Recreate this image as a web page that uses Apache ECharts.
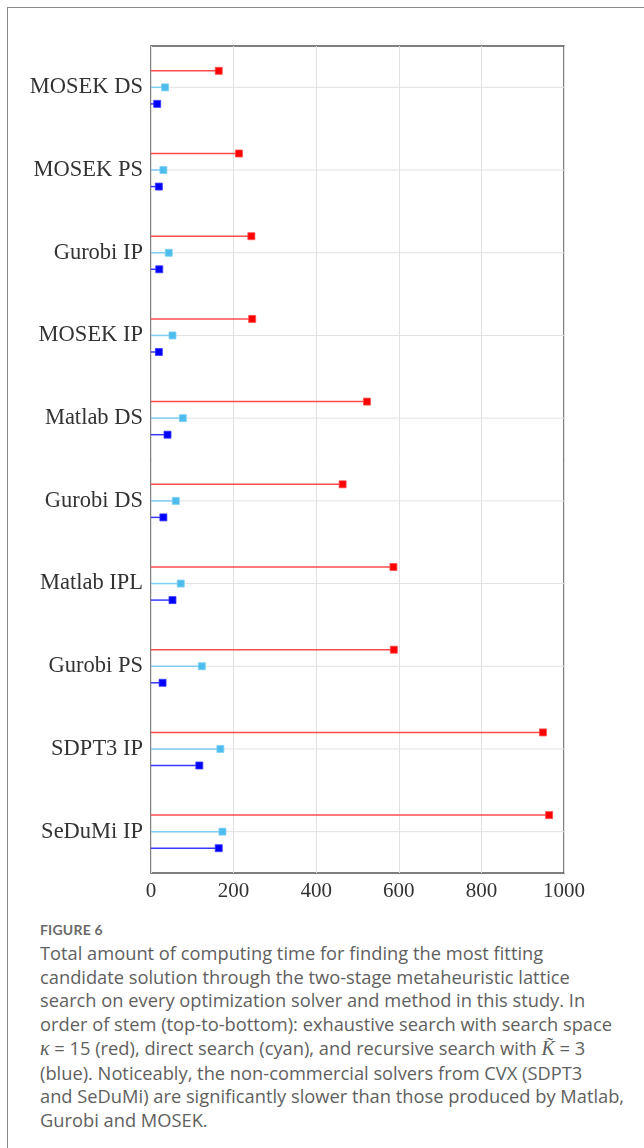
<!DOCTYPE html>
<html>
<head>
<meta charset="utf-8">
<script src="https://cdn.jsdelivr.net/npm/echarts@6/dist/echarts.min.js"></script>
<style>
  html, body { margin: 0; padding: 0; background: #fff; }
  #frame { position: absolute; left: 7px; top: 7px; width: 700px; height: 1200px;
           border: 1.5px solid #8a8a8a; box-sizing: border-box; }
  #main { position: absolute; left: 0; top: 0; width: 644px; height: 910px; }
  #caption { position: absolute; left: 40px; top: 921px; font-family: "Open Sans", Lato, sans-serif;
             color: #5f5f5f; white-space: nowrap; }
  #caption .fig { font-family: Lato, sans-serif; font-size: 14px; font-weight: bold; color: #6a6a6a;
                  letter-spacing: 0.2px; margin-bottom: 3px; }
  #caption .txt { font-size: 18.3px; line-height: 23.7px; }
  #caption i { font-family: "Liberation Serif", serif; font-size: 20px; }
</style>
</head>
<body>
<div id="frame"></div>
<div id="main"></div>
<div id="caption">
  <div class="fig">FIGURE 6</div>
  <div class="txt">
    Total amount of computing time for finding the most fitting<br>
    candidate solution through the two-stage metaheuristic lattice<br>
    search on every optimization solver and method in this study. In<br>
    order of stem (top-to-bottom): exhaustive search with search space<br>
    <i>κ</i> = 15 (red), direct search (cyan), and recursive search with <i>K̃</i> = 3<br>
    (blue). Noticeably, the non-commercial solvers from CVX (SDPT3<br>
    and SeDuMi) are significantly slower than those produced by Matlab,<br>
    Gurobi and MOSEK.
  </div>
</div>
<script>
// 求解器/方法（自上而下）
var solvers = ['MOSEK DS', 'MOSEK PS', 'Gurobi IP', 'MOSEK IP', 'Matlab DS',
               'Gurobi DS', 'Matlab IPL', 'Gurobi PS', 'SDPT3 IP', 'SeDuMi IP'];
var exhaustive = [164, 213, 243, 245, 523, 464, 587, 588, 949, 964];
var direct = [34, 30, 43, 52, 77, 60, 72, 123, 168, 173];
var recursive = [15, 19, 20, 19, 40, 30, 52, 28, 117, 164];
var xTicks = [0, 200, 400, 600, 800, 1000];

var myChart = echarts.init(document.getElementById('main'), null, { renderer: 'canvas' });

function stemSeries(name, values, offset, lineColor, markColor) {
    return {
        name: name,
        type: 'custom',
        z: 3,
        encode: { x: 0, y: 1 },
        data: values.map(function (v, i) { return [v, i]; }),
        renderItem: function (params, api) {
            var band = api.size([0, 1])[1];
            var end = api.coord([api.value(0), api.value(1)]);
            var start = api.coord([0, api.value(1)]);
            var y = end[1] + offset * band;
            var s = 7;
            return {
                type: 'group',
                children: [{
                    type: 'line',
                    shape: { x1: start[0], y1: y, x2: end[0], y2: y },
                    style: { stroke: lineColor, lineWidth: 1.5 }
                }, {
                    type: 'rect',
                    shape: { x: end[0] - s / 2, y: y - s / 2, width: s, height: s },
                    style: { fill: markColor, stroke: lineColor, lineWidth: 0.8 }
                }]
            };
        }
    };
}

var option = {
    animation: false,
    grid: {
        left: 151, top: 46, width: 413, bottom: 37,
        show: true, borderColor: '#555', borderWidth: 1.5, backgroundColor: 'transparent'
    },
    xAxis: {
        type: 'value',
        min: xTicks[0], max: xTicks[xTicks.length - 1], interval: 200,
        axisLine: { show: false },
        axisTick: { show: false },
        axisLabel: {
            fontFamily: 'Liberation Serif', fontSize: 21, color: '#333', margin: 8,
            formatter: function (v) { return String(v); }
        },
        splitLine: { show: true, lineStyle: { color: '#e2e2e2', width: 1 } }
    },
    yAxis: {
        type: 'category',
        data: solvers,
        inverse: true,
        axisLine: { show: false },
        axisTick: { show: false },
        splitLine: { show: false },
        axisLabel: { fontFamily: 'Liberation Serif', fontSize: 22.5, color: '#333', margin: 8 }
    },
    series: [
        {
            name: 'hgrid',
            type: 'custom',
            z: 1,
            silent: true,
            encode: { y: 0 },
            data: solvers.map(function (c, i) { return [i]; }),
            renderItem: function (params, api) {
                var a = api.coord([xTicks[0], api.value(0)]);
                var b = api.coord([xTicks[xTicks.length - 1], api.value(0)]);
                return {
                    type: 'line',
                    shape: { x1: a[0], y1: a[1], x2: b[0], y2: b[1] },
                    style: { stroke: '#e2e2e2', lineWidth: 1 }
                };
            }
        },
        stemSeries('exhaustive', exhaustive, -0.2, '#ff4d4d', '#ff0000'),
        stemSeries('direct', direct, 0, '#7fcff2', '#4dbdee'),
        stemSeries('recursive', recursive, 0.2, '#3a3aff', '#0000ff')
    ]
};
myChart.setOption(option);
</script>
</body>
</html>
